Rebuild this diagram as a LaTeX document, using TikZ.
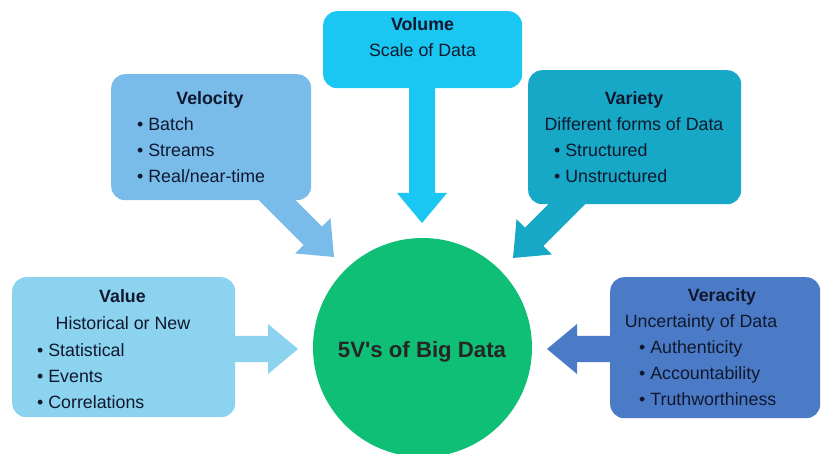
\documentclass[tikz,border=0pt]{standalone}
\usepackage{fontspec}
\setmainfont{Liberation Sans}
\definecolor{velc}{HTML}{79BCEA}
\definecolor{volc}{HTML}{1AC6F2}
\definecolor{varc}{HTML}{16A8C6}
\definecolor{valc}{HTML}{8CD3EF}
\definecolor{verc}{HTML}{4B7BC6}
\definecolor{circc}{HTML}{10BF76}
\definecolor{textc}{HTML}{10182E}
\begin{document}
\begin{tikzpicture}[x=1pt,y=1pt,
  box/.style={draw=none, rounded corners=14pt, inner sep=0pt, anchor=north west},
  txt/.style={font=\fontsize{17.8}{20}\selectfont, text=textc, inner sep=0pt, anchor=base},
  ttl/.style={txt, font=\fontsize{17.8}{20}\selectfont\bfseries},
  itm/.style={txt, anchor=base west},
  pics/fatarrow/.style={code={\path[pic actions] (0,0) -- (-30,25) -- (-30,13) -- (-#1,13) -- (-#1,-13) -- (-30,-13) -- (-30,-25) -- cycle;}}
]
\useasboundingbox (0,0) rectangle (822,-454);
% arrow tips
\coordinate (tipvol) at (422,-223);
\coordinate (tipvel) at (334,-257);
\coordinate (tipvar) at (513,-258);
\coordinate (tipval) at (298,-349);
\coordinate (tipver) at (547,-349);
% arrows
\pic[fill=volc, rotate=-90] at (tipvol) {fatarrow=150};
\pic[fill=velc, rotate=-45] at (tipvel) {fatarrow=100};
\pic[fill=varc, rotate=-135] at (tipvar) {fatarrow=100};
\pic[fill=valc] at (tipval) {fatarrow=80};
\pic[fill=verc, rotate=180] at (tipver) {fatarrow=80};
% boxes
\node[box, fill=velc, minimum width=200pt, minimum height=126pt] (vel) at (111,-74) {};
\node[box, fill=volc, minimum width=199pt, minimum height=77pt] (vol) at (323,-11) {};
\node[box, fill=varc, minimum width=213pt, minimum height=134pt] (var) at (528,-70) {};
\node[box, fill=valc, minimum width=223pt, minimum height=140pt] (val) at (12,-277) {};
\node[box, fill=verc, minimum width=210pt, minimum height=141pt] (ver) at (610,-277) {};
% circle
\node[circle, fill=circc, minimum size=219pt, inner sep=0pt] (big) at (422.5,-347.5) {};
\node[ttl, font=\fontsize{22.2}{24}\selectfont\bfseries, text=black!85] (bigt) at (422,-357) {5V\textquotesingle s of Big Data};
% Velocity
\node[ttl] (velt) at (210,-105) {Velocity};
\node[itm] (vel1) at (137,-131) {• Batch};
\node[itm] (vel2) at (137,-157) {• Streams};
\node[itm] (vel3) at (137,-183) {• Real/near-time};
% Volume
\node[ttl] (volt) at (422.5,-31) {Volume};
\node[txt] (vols) at (422.5,-57) {Scale of Data};
% Variety
\node[ttl] (vart) at (634,-105) {Variety};
\node[txt] (vars) at (634,-131) {Different forms of Data};
\node[itm] (var1) at (554,-157) {• Structured};
\node[itm] (var2) at (554,-183) {• Unstructured};
% Value
\node[ttl] (valt) at (122.5,-303) {Value};
\node[txt] (vals) at (123,-330) {Historical or New};
\node[itm] (val1) at (37,-356) {• Statistical};
\node[itm] (val2) at (37,-382) {• Events};
\node[itm] (val3) at (37,-408) {• Correlations};
% Veracity
\node[ttl] (vert) at (722,-302) {Veracity};
\node[txt] (vers) at (701,-327) {Uncertainty of Data};
\node[itm] (ver1) at (639,-353) {• Authenticity};
\node[itm] (ver2) at (639,-379) {• Accountability};
\node[itm] (ver3) at (639,-405) {• Truthworthiness};
\end{tikzpicture}
\end{document}
